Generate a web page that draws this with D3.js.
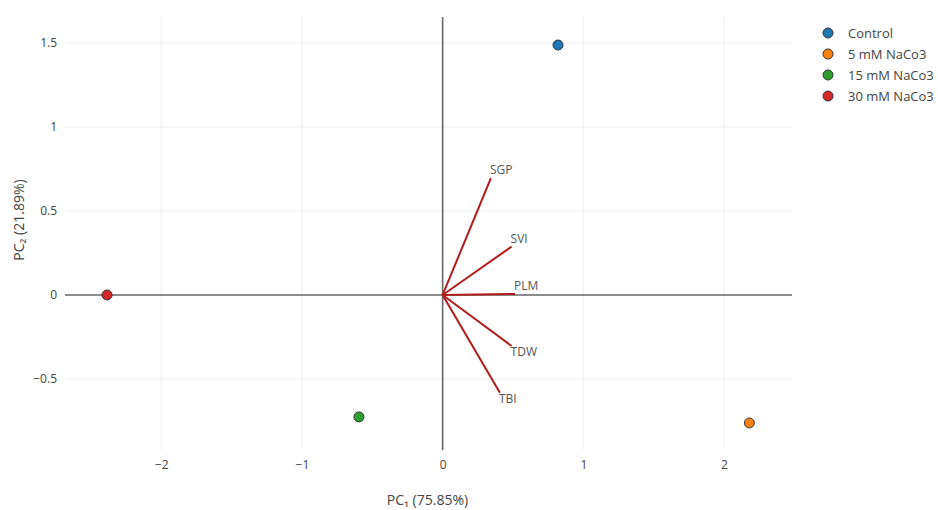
<!DOCTYPE html>
<html>
<head>
<meta charset="utf-8">
<script src="https://cdn.jsdelivr.net/npm/d3@7"></script>
<style>
  body { margin: 0; background: #fff; }
  svg { font-family: "Open Sans", "Noto Sans", sans-serif; }
</style>
</head>
<body>
<svg id="chart" width="938" height="510"></svg>
<script>
// ---- data ----
const groups = ["Control", "5 mM NaCo3", "15 mM NaCo3", "30 mM NaCo3"];
const pc1Scores = [0.82, 2.18, -0.595, -2.385];
const pc2Scores = [1.488, -0.762, -0.726, 0.0];
const groupColors = ["#1f77b4", "#ff7f0e", "#2ca02c", "#d62728"];

const variables = ["SGP", "SVI", "PLM", "TDW", "TBI"];
const loadPC1 = [0.343, 0.49, 0.514, 0.49, 0.407];
const loadPC2 = [0.696, 0.288, 0.006, -0.304, -0.582];

const xTicks = [-2, -1, 0, 1, 2];
const yTicks = [-0.5, 0, 0.5, 1, 1.5];
const xTitle = "PC\u2081 (75.85%)";
const yTitle = "PC\u2082 (21.89%)";

// ---- layout ----
const svg = d3.select("#chart");
const L = 65, R = 792, T = 17, B = 450;
const x = d3.scaleLinear().domain([-2.684, 2.483]).range([L, R]);
const y = d3.scaleLinear().domain([-0.923, 1.655]).range([B, T]);

const fmt = d => (d < 0 ? "\u2212" + Math.abs(d) : String(d));

// grid
const grid = svg.append("g");
grid.selectAll("line.gx").data(xTicks.filter(d => d !== 0)).join("line")
  .attr("x1", d => x(d)).attr("x2", d => x(d)).attr("y1", T).attr("y2", B)
  .attr("stroke", "#eee").attr("stroke-width", 1);
grid.selectAll("line.gy").data(yTicks.filter(d => d !== 0)).join("line")
  .attr("y1", d => y(d)).attr("y2", d => y(d)).attr("x1", L).attr("x2", R)
  .attr("stroke", "#eee").attr("stroke-width", 1);

// axes (tick labels only)
const xAxis = d3.axisBottom(x).tickValues(xTicks).tickFormat(fmt).tickSize(0).tickPadding(10);
const gx = svg.append("g").attr("transform", `translate(0,${B})`).call(xAxis);
gx.select(".domain").remove();
gx.selectAll("text").attr("font-size", 12).attr("fill", "#444").attr("font-family", '"Open Sans", sans-serif');

const yAxis = d3.axisLeft(y).tickValues(yTicks).tickFormat(fmt).tickSize(0).tickPadding(8);
const gy = svg.append("g").attr("transform", `translate(${L},0)`).call(yAxis);
gy.select(".domain").remove();
gy.selectAll("text").attr("font-size", 12).attr("fill", "#444").attr("font-family", '"Open Sans", sans-serif');

// zero lines
svg.append("line").attr("x1", L).attr("x2", R).attr("y1", y(0)).attr("y2", y(0))
  .attr("stroke", "#666").attr("stroke-width", 1.6);
svg.append("line").attr("x1", x(0)).attr("x2", x(0)).attr("y1", T).attr("y2", B)
  .attr("stroke", "#666").attr("stroke-width", 1.6);

// loading vectors
const loadings = variables.map((v, i) => ({ v, a: loadPC1[i], b: loadPC2[i] }));
svg.append("g").selectAll("line").data(loadings).join("line")
  .attr("x1", x(0)).attr("y1", y(0))
  .attr("x2", d => x(d.a)).attr("y2", d => y(d.b))
  .attr("stroke", "#b01c1c").attr("stroke-width", 2);
svg.append("g").selectAll("text").data(loadings).join("text")
  .attr("x", d => x(d.a) - 1)
  .attr("y", d => y(d.b) + (d.b >= 0 ? -4 : 10))
  .attr("font-size", 12).attr("fill", "#555")
  .text(d => d.v);

// score points
const pts = groups.map((g, i) => ({ g, a: pc1Scores[i], b: pc2Scores[i], c: groupColors[i] }));
svg.append("g").selectAll("circle").data(pts).join("circle")
  .attr("cx", d => x(d.a)).attr("cy", d => y(d.b)).attr("r", 5)
  .attr("fill", d => d.c).attr("stroke", "#333").attr("stroke-width", 1);

// axis titles
svg.append("text").attr("x", (L + R) / 2 - 1).attr("y", 505)
  .attr("text-anchor", "middle").attr("font-size", 14).attr("fill", "#444").text(xTitle);
svg.append("text").attr("transform", "translate(24,220) rotate(-90)")
  .attr("text-anchor", "middle").attr("font-size", 14).attr("fill", "#444").text(yTitle);

// legend
const lg = svg.append("g").attr("transform", "translate(828,33)");
const items = lg.selectAll("g").data(pts).join("g")
  .attr("transform", (d, i) => `translate(0,${i * 21})`);
items.append("circle").attr("r", 5).attr("fill", d => d.c).attr("stroke", "#333").attr("stroke-width", 1);
items.append("text").attr("x", 20).attr("y", 4.5).attr("font-size", 13).attr("fill", "#444").text(d => d.g);
</script>
</body>
</html>
